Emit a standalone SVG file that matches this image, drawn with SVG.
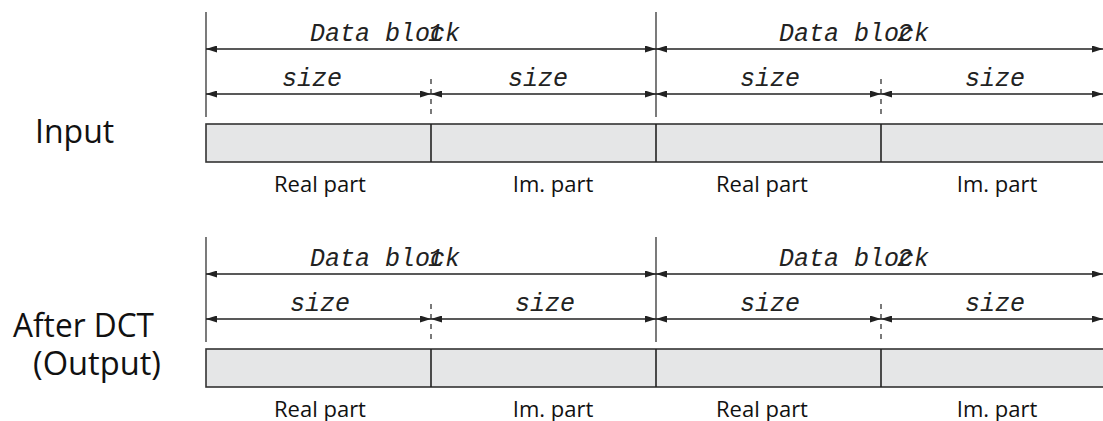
<svg xmlns="http://www.w3.org/2000/svg" width="1103" height="421" viewBox="0 0 1103 421">
<defs>
<marker id="ah" viewBox="0 0 11 7" refX="11" refY="3.5" markerWidth="11" markerHeight="7" markerUnits="userSpaceOnUse" orient="auto-start-reverse">
<path d="M0,0 L11,3.5 L0,7 z" fill="#222"/>
</marker>
<style>
.mono{font-family:"Liberation Mono","Courier New",monospace;font-style:italic;font-size:25px;fill:#222}
.lbl{font-family:"Open Sans","Noto Sans",sans-serif;font-size:22px;fill:#111;text-anchor:middle}
.side{font-family:"Open Sans","Noto Sans",sans-serif;font-size:32px;fill:#111}
.dim{stroke:#222;stroke-width:1.3;fill:none;marker-start:url(#ah);marker-end:url(#ah)}
.ext{stroke:#333;stroke-width:1.3}
.dash{stroke:#333;stroke-width:1.3;stroke-dasharray:5 5}
.bar{fill:#e5e6e7;stroke:#333;stroke-width:1.6}
.div{stroke:#222;stroke-width:1.6}
</style>
</defs>

<g id="input-label"><text class="side" x="35" y="143">Input</text></g>
<g id="output-label">
<text class="side" x="13" y="337" textLength="141" lengthAdjust="spacingAndGlyphs">After DCT</text>
<text class="side" x="33" y="375" textLength="128" lengthAdjust="spacingAndGlyphs">(Output)</text>
</g>

<g id="input-row">
<rect class="bar" x="206" y="124" width="910" height="38"/>
<line class="div" x1="431" y1="124" x2="431" y2="162"/>
<line class="div" x1="656" y1="124" x2="656" y2="162"/>
<line class="div" x1="881" y1="124" x2="881" y2="162"/>
<text class="lbl" x="320" y="192">Real part</text>
<text class="lbl" x="553" y="192">Im. part</text>
<text class="lbl" x="762" y="192">Real part</text>
<text class="lbl" x="997" y="192">Im. part</text>
</g>

<g id="output-row">
<rect class="bar" x="206" y="349" width="910" height="38"/>
<line class="div" x1="431" y1="349" x2="431" y2="387"/>
<line class="div" x1="656" y1="349" x2="656" y2="387"/>
<line class="div" x1="881" y1="349" x2="881" y2="387"/>
<text class="lbl" x="320" y="417">Real part</text>
<text class="lbl" x="553" y="417">Im. part</text>
<text class="lbl" x="762" y="417">Real part</text>
<text class="lbl" x="997" y="417">Im. part</text>
</g>

<g id="connectors">
<line class="ext" x1="206" y1="12" x2="206" y2="117"/>
<line class="ext" x1="656" y1="12" x2="656" y2="117"/>
<line class="dash" x1="431" y1="79" x2="431" y2="117"/>
<line class="dash" x1="881" y1="79" x2="881" y2="117"/>
<line class="dim" x1="206" y1="49" x2="656" y2="49"/>
<line class="dim" x1="656" y1="49" x2="1103" y2="49"/>
<line class="dim" x1="206" y1="94" x2="431" y2="94"/>
<line class="dim" x1="431" y1="94" x2="656" y2="94"/>
<line class="dim" x1="656" y1="94" x2="881" y2="94"/>
<line class="dim" x1="881" y1="94" x2="1103" y2="94"/>

<line class="ext" x1="206" y1="237" x2="206" y2="342"/>
<line class="ext" x1="656" y1="237" x2="656" y2="342"/>
<line class="dash" x1="431" y1="304" x2="431" y2="342"/>
<line class="dash" x1="881" y1="304" x2="881" y2="342"/>
<line class="dim" x1="206" y1="274" x2="656" y2="274"/>
<line class="dim" x1="656" y1="274" x2="1103" y2="274"/>
<line class="dim" x1="206" y1="319" x2="431" y2="319"/>
<line class="dim" x1="431" y1="319" x2="656" y2="319"/>
<line class="dim" x1="656" y1="319" x2="881" y2="319"/>
<line class="dim" x1="881" y1="319" x2="1103" y2="319"/>
</g>

<g id="dimension-labels">
<text class="mono" x="310" y="41">Data block</text>
<text class="mono" x="428" y="41">1</text>
<text class="mono" x="779" y="41">Data block</text>
<text class="mono" x="897" y="41">2</text>
<text class="mono" x="282" y="86">size</text>
<text class="mono" x="508" y="86">size</text>
<text class="mono" x="740" y="86">size</text>
<text class="mono" x="965" y="86">size</text>

<text class="mono" x="310" y="266">Data block</text>
<text class="mono" x="428" y="266">1</text>
<text class="mono" x="779" y="266">Data block</text>
<text class="mono" x="897" y="266">2</text>
<text class="mono" x="290" y="311">size</text>
<text class="mono" x="515" y="311">size</text>
<text class="mono" x="740" y="311">size</text>
<text class="mono" x="965" y="311">size</text>
</g>
</svg>
